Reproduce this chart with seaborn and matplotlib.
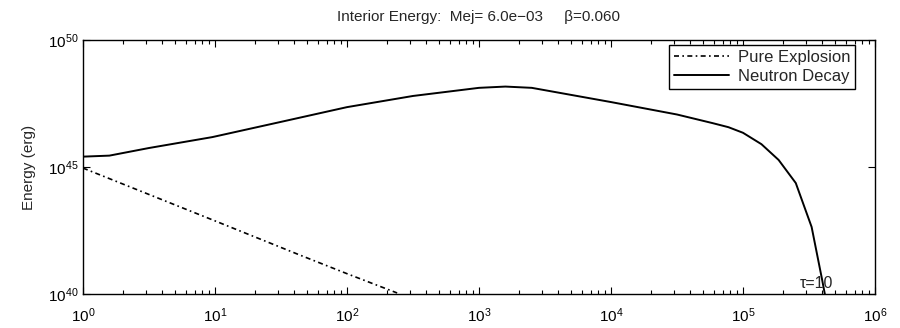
import numpy as np
import pandas as pd
import matplotlib
matplotlib.use("Agg")
import matplotlib.pyplot as plt
import seaborn as sns
from matplotlib.ticker import LogLocator, NullFormatter, FixedLocator

# ---- data (log10 values) ----
neutron_logt = [0.0, 0.2, 0.5, 0.98, 1.5, 2.0, 2.5, 3.0, 3.2, 3.4, 4.0, 4.5, 4.77, 4.89, 5.0, 5.14, 5.27, 5.40, 5.52, 5.60, 5.62]
neutron_logE = [45.41, 45.45, 45.75, 46.18, 46.78, 47.36, 47.80, 48.12, 48.17, 48.12, 47.56, 47.07, 46.73, 46.57, 46.35, 45.90, 45.28, 44.37, 42.64, 40.55, 40.0]
explosion_logt = [0.0, 0.5, 1.0, 1.64, 2.0, 2.38]
explosion_logE = [44.96, 43.92, 42.88, 41.54, 40.80, 40.04]

title = "Interior Energy:  Mej= 6.0e\u221203     \u03b2=0.060"
ylabel = "Energy (erg)"
legend_labels = ["Pure Explosion", "Neutron Decay"]
annotation = "\u03c4=10"
xtick_exps = [0, 1, 2, 3, 4, 5, 6]
ytick_exps = [40, 45, 50]

sns.set_style("ticks")
plt.rcParams["font.family"] = ["Liberation Sans", "DejaVu Sans"]
plt.rcParams["mathtext.fontset"] = "custom"
plt.rcParams["mathtext.rm"] = "Liberation Sans"
plt.rcParams["mathtext.it"] = "Liberation Sans"

df_n = pd.DataFrame({"t": 10 ** np.array(neutron_logt), "E": 10 ** np.array(neutron_logE), "series": legend_labels[1]})
df_e = pd.DataFrame({"t": 10 ** np.array(explosion_logt), "E": 10 ** np.array(explosion_logE), "series": legend_labels[0]})

fig = plt.figure(figsize=(9, 3.28), dpi=100)
ax = fig.add_axes([0.0922, 0.1037, 0.880, 0.774])

sns.lineplot(data=df_e, x="t", y="E", ax=ax, color="black", lw=1.2,
             label=legend_labels[0], linestyle=(0, (3, 2, 1, 2)))
sns.lineplot(data=df_n, x="t", y="E", ax=ax, color="black", lw=1.4,
             label=legend_labels[1])

ax.set_xscale("log")
ax.set_yscale("log")
ax.set_xlim(1, 1e6)
ax.set_ylim(1e40, 1e50)

ax.xaxis.set_major_locator(FixedLocator([10.0 ** e for e in xtick_exps]))
ax.set_xticklabels([rf"$10^{{{e}}}$" for e in xtick_exps])
minor_x = [m * 10.0 ** e for e in xtick_exps[:-1] for m in range(2, 10)]
ax.xaxis.set_minor_locator(FixedLocator(minor_x))
ax.xaxis.set_minor_formatter(NullFormatter())
ax.yaxis.set_major_locator(FixedLocator([10.0 ** e for e in ytick_exps]))
ax.yaxis.set_minor_locator(FixedLocator([]))
ax.set_yticklabels([rf"$10^{{{e}}}$" for e in ytick_exps])

ax.tick_params(which="both", direction="in", top=True, right=True, labelsize=11, colors="black", width=0.8)
ax.tick_params(which="major", length=5)
ax.tick_params(which="minor", length=3)
ax.tick_params(axis="x", which="major", pad=9)
ax.tick_params(axis="y", which="major", pad=3)
for s in ax.spines.values():
    s.set_color("black")
    s.set_linewidth(1.0)

ax.xaxis.label.set_visible(False)
ax.set_ylabel(ylabel, fontsize=11, labelpad=9)
ax.set_title(title, fontsize=11, pad=14)

ax.text(10 ** 5.43, 10 ** 40.1, annotation, fontsize=11.5, ha="left", va="bottom")

leg = ax.legend(loc="upper right", bbox_to_anchor=(0.975, 0.98), fontsize=12, frameon=True,
                fancybox=False, edgecolor="black", framealpha=1, borderaxespad=0.0,
                handlelength=3.3, handletextpad=0.5, borderpad=0.3, labelspacing=0.2)
leg.get_frame().set_linewidth(1.0)

fig.savefig("out.png", dpi=100)
